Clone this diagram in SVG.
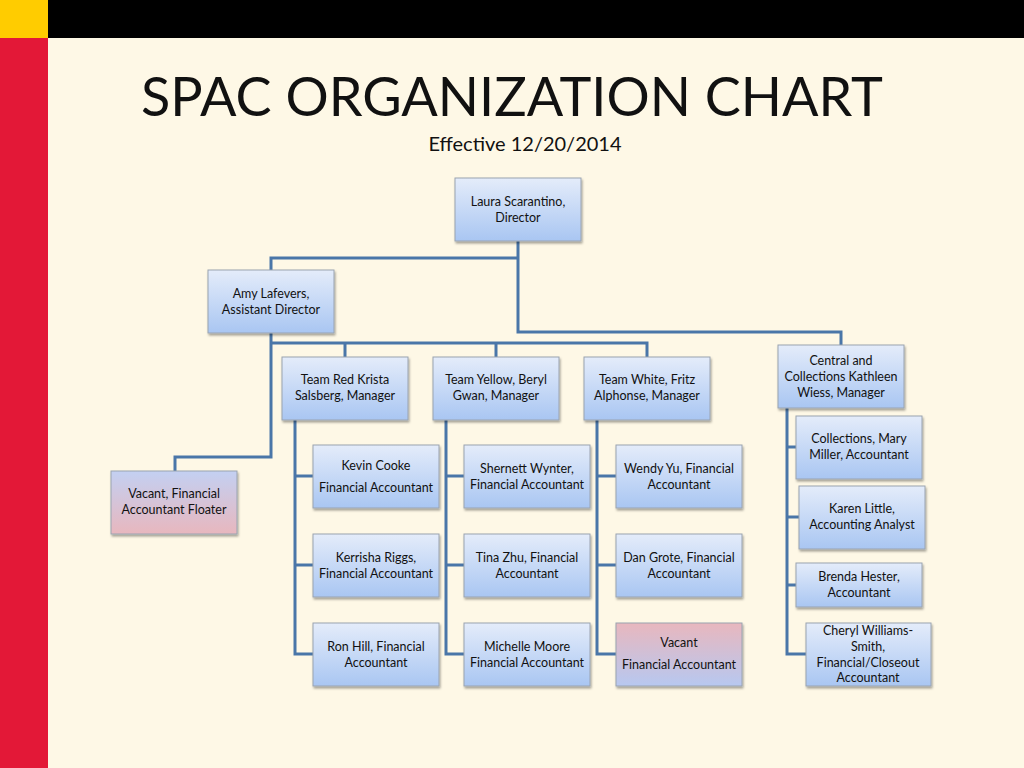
<svg xmlns="http://www.w3.org/2000/svg" width="1024" height="768" viewBox="0 0 1024 768">
<defs>
<linearGradient id="blue" x1="0" y1="0" x2="0" y2="1"><stop offset="0" stop-color="#E4ECFA"/><stop offset="1" stop-color="#A9C6F2"/></linearGradient>
<linearGradient id="bp" x1="0" y1="0" x2="0" y2="1"><stop offset="0" stop-color="#C3D0F2"/><stop offset="1" stop-color="#E8B7BE"/></linearGradient>
<linearGradient id="pb" x1="0" y1="0" x2="0" y2="1"><stop offset="0" stop-color="#E8B7BE"/><stop offset="1" stop-color="#B7C8F0"/></linearGradient>
<filter id="sh" x="-10%" y="-10%" width="130%" height="140%"><feDropShadow dx="1" dy="2" stdDeviation="1.2" flood-opacity="0.35"/></filter>
</defs>
<style>
rect.n{fill:url(#blue);stroke:#9AA3B0;stroke-width:1;filter:url(#sh)}
text{font-family:Lato,"Open Sans","Liberation Sans",sans-serif;fill:#111}
.t{font-size:12.5px;text-anchor:middle}
.c path{fill:none;stroke:#4A76A8;stroke-width:3}
</style>
<rect width="1024" height="768" fill="#FEF8E6"/>
<rect x="0" y="0" width="1024" height="38" fill="#000"/>
<rect x="0" y="0" width="48" height="38" fill="#FFCC00"/>
<rect x="0" y="38" width="48" height="730" fill="#E31837"/>
<text x="512" y="116" font-size="54" text-anchor="middle">SPAC ORGANIZATION CHART</text>
<text x="525" y="151" font-size="20" text-anchor="middle">Effective 12/20/2014</text>
<g class="c">
<path d="M518 241V332H841V345"/>
<path d="M518 258H271V270"/>
<path d="M271 333V457H175V471"/>
<path d="M271 343H647V357M345 343V357M496 343V357"/>
<path d="M295 420V654H313M295 476H313M295 565H313"/>
<path d="M446 420V654H464M446 476H464M446 565H464"/>
<path d="M597 420V654H616M597 476H616M597 565H616"/>
<path d="M787 408V654H806M787 447H796M787 517H799M787 585H796"/>
</g>
<g id="director"><rect class="n" x="455" y="178" width="126" height="63"/><text class="t" x="518" y="206">Laura Scarantino,</text><text class="t" x="518" y="222">Director</text></g>
<g id="amy"><rect class="n" x="208" y="270" width="126" height="63"/><text class="t" x="271" y="298">Amy Lafevers,</text><text class="t" x="271" y="314">Assistant Director</text></g>
<g id="red"><rect class="n" x="282" y="357" width="126" height="63"/><text class="t" x="345" y="384">Team Red  Krista</text><text class="t" x="345" y="400">Salsberg, Manager</text></g>
<g id="yellow"><rect class="n" x="433" y="357" width="126" height="63"/><text class="t" x="496" y="384">Team Yellow, Beryl</text><text class="t" x="496" y="400">Gwan, Manager</text></g>
<g id="white"><rect class="n" x="584" y="357" width="126" height="63"/><text class="t" x="647" y="384">Team White, Fritz</text><text class="t" x="647" y="400">Alphonse, Manager</text></g>
<g id="central"><rect class="n" x="778" y="345" width="126" height="63"/><text class="t" x="841" y="365">Central and</text><text class="t" x="841" y="381">Collections Kathleen</text><text class="t" x="841" y="397">Wiess, Manager</text></g>
<g id="mary"><rect class="n" x="796" y="416" width="126" height="63"/><text class="t" x="859" y="443">Collections, Mary</text><text class="t" x="859" y="459">Miller, Accountant</text></g>
<g id="karen"><rect class="n" x="799" y="486" width="126" height="63"/><text class="t" x="862" y="513">Karen Little,</text><text class="t" x="862" y="529">Accounting Analyst</text></g>
<g id="brenda"><rect class="n" x="796" y="563" width="126" height="44"/><text class="t" x="859" y="581">Brenda Hester,</text><text class="t" x="859" y="597">Accountant</text></g>
<g id="cheryl"><rect class="n" x="806" y="623" width="125" height="63"/><text class="t" x="868" y="635">Cheryl Williams-</text><text class="t" x="868" y="651">Smith,</text><text class="t" x="868" y="667">Financial/Closeout</text><text class="t" x="868" y="682">Accountant</text></g>
<g id="floater"><rect class="n" x="111" y="471" width="126" height="63" style="fill:url(#bp)"/><text class="t" x="174" y="498">Vacant, Financial</text><text class="t" x="174" y="514">Accountant Floater</text></g>
<g id="kevin"><rect class="n" x="313" y="445" width="126" height="63"/><text class="t" x="376" y="470">Kevin Cooke</text><text class="t" x="376" y="492">Financial Accountant</text></g>
<g id="kerrisha"><rect class="n" x="313" y="534" width="126" height="63"/><text class="t" x="376" y="562">Kerrisha Riggs,</text><text class="t" x="376" y="578">Financial Accountant</text></g>
<g id="ron"><rect class="n" x="313" y="623" width="126" height="63"/><text class="t" x="376" y="651">Ron Hill, Financial</text><text class="t" x="376" y="667">Accountant</text></g>
<g id="shernett"><rect class="n" x="464" y="445" width="126" height="63"/><text class="t" x="527" y="473">Shernett Wynter,</text><text class="t" x="527" y="489">Financial Accountant</text></g>
<g id="tina"><rect class="n" x="464" y="534" width="126" height="63"/><text class="t" x="527" y="562">Tina Zhu, Financial</text><text class="t" x="527" y="578">Accountant</text></g>
<g id="michelle"><rect class="n" x="464" y="623" width="126" height="63"/><text class="t" x="527" y="651">Michelle Moore</text><text class="t" x="527" y="667">Financial Accountant</text></g>
<g id="wendy"><rect class="n" x="616" y="445" width="126" height="63"/><text class="t" x="679" y="473">Wendy Yu, Financial</text><text class="t" x="679" y="489">Accountant</text></g>
<g id="dan"><rect class="n" x="616" y="534" width="126" height="63"/><text class="t" x="679" y="562">Dan Grote, Financial</text><text class="t" x="679" y="578">Accountant</text></g>
<g id="vacant"><rect class="n" x="616" y="623" width="126" height="63" style="fill:url(#pb)"/><text class="t" x="679" y="647">Vacant</text><text class="t" x="679" y="669">Financial Accountant</text></g>
</svg>
